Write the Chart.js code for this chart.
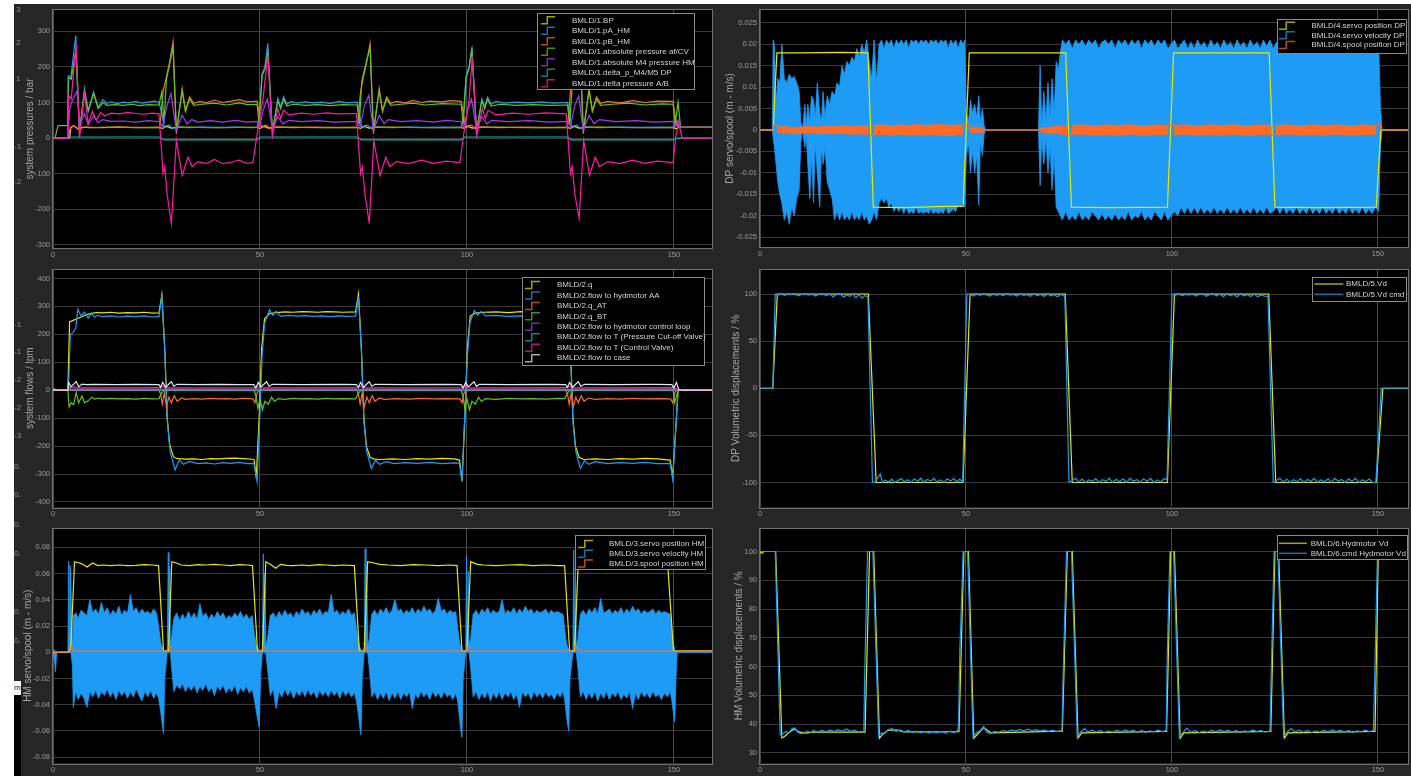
<!DOCTYPE html>
<html><head><meta charset="utf-8">
<script src="https://cdn.jsdelivr.net/npm/chart.js@4.4.1/dist/chart.umd.min.js"></script>
<style>
html,body{margin:0;padding:0;background:#fff;width:1411px;height:776px;overflow:hidden;position:relative}
#bg{position:absolute;left:14px;top:4px;width:1397px;height:772px;background:#262626}
canvas{position:absolute}
#clipL{position:absolute;left:14px;top:4px;width:7px;height:772px;overflow:hidden}
#clipL span{position:absolute;font:8px "Liberation Sans",Arial,sans-serif;color:#8a8a8a;line-height:10px;white-space:nowrap}
</style></head><body>
<div id="bg"></div>
<div id="clipL">
<span style="left:2px;top:1px">3</span><span style="left:2px;top:34px">2</span><span style="left:2px;top:70px">1</span>
<span style="left:0px;top:138px">-1</span><span style="left:0px;top:173px">-2</span>
<span style="left:2px;top:288px">.</span><span style="left:0px;top:316px">-1</span><span style="left:0px;top:343px">-1</span>
<span style="left:0px;top:371px">-2</span><span style="left:0px;top:399px">-2</span><span style="left:0px;top:427px">-3</span>
<span style="left:0px;top:458px">0.</span><span style="left:0px;top:486px">0.</span>
<span style="left:0px;top:516px">0.</span><span style="left:0px;top:545px">0.</span><span style="left:0px;top:603px">0.</span><span style="left:0px;top:632px">0.</span>
<div style="position:absolute;left:0;top:677px;width:7px;height:14px;background:#f4f4f4;font:8px 'Liberation Sans',Arial;color:#333;line-height:14px;overflow:hidden">mi</div>
<div style="position:absolute;left:0;top:691px;width:7px;height:81px;background:#000"></div>
</div>
<canvas id="c1" width="715" height="262" style="left:0;top:0"></canvas>
<canvas id="c2" width="696" height="262" style="left:715px;top:0"></canvas>
<canvas id="c3" width="715" height="259" style="left:0;top:262px"></canvas>
<canvas id="c4" width="696" height="259" style="left:715px;top:262px"></canvas>
<canvas id="c5" width="715" height="255" style="left:0;top:521px"></canvas>
<canvas id="c6" width="696" height="255" style="left:715px;top:521px"></canvas>
<script>
// ---------- tick arrays ----------
const xTicks = [0, 50, 100, 150];
const yTicksPress = [-300, -200, -100, 0, 100, 200, 300];
const yTicksDPservo = [-0.025, -0.02, -0.015, -0.01, -0.005, 0, 0.005, 0.01, 0.015, 0.02, 0.025];
const yTicksFlow = [-400, -300, -200, -100, 0, 100, 200, 300, 400];
const yTicksDPvd = [-100, -50, 0, 50, 100];
const yTicksHMservo = [-0.08, -0.06, -0.04, -0.02, 0, 0.02, 0.04, 0.06, 0.08];
const yTicksHMvd = [30, 40, 50, 60, 70, 80, 90, 100];

// ---------- panel 1: system pressures [t, bar] ----------
const BP = [[0,0],[4,0],[4.3,30],[5,34],[6,27],[7.5,31],[9,29],[12,30],[16,31],[20,29],[25.6,30],[26.5,27],[27.5,33],[28.5,28],[30,31],[35,30],[40,29],[45,30],[49.3,30],[50,27],[51,33],[52,28],[54,31],[60,30],[66,29],[73.5,30],[74.3,27],[75.3,33],[76.3,28],[78,31],[85,30],[92,29],[98.6,30],[99.3,27],[100.3,33],[101.3,28],[103,31],[110,30],[117,29],[124.3,30],[125,27],[126,33],[127,28],[129,31],[136,30],[143,29],[149.8,30],[150.5,26],[151.3,31],[152,30],[159.5,30]];
const pA_HM = [[0,0],[3.6,0],[3.7,175],[4.3,170],[5.5,288],[6.4,12],[7.6,139],[8.5,78],[9.8,130],[10.9,87],[12.1,108],[13,98],[14,102],[15.5,97],[17,101],[18.5,99],[20,103],[21.5,98],[23,101],[24.5,104],[25.6,100],[26.3,70],[26.8,32],[28,36],[29,27],[30,31],[33,29],[36,31],[40,30],[44,31],[48,29],[49.3,30],[49.8,60],[50.5,181],[51.2,200],[51.9,266],[53,12],[54.3,111],[55,87],[55.7,116],[56.5,95],[57.5,103],[59,98],[61,102],[63,99],[65,101],[67,97],[69,103],[71,99],[73.5,101],[74,70],[74.5,32],[76,36],[77,27],[78,31],[82,29],[86,31],[90,30],[94,31],[98.6,30],[99.1,60],[99.8,175],[100.5,200],[101.2,255],[102.3,12],[103.6,110],[104.3,88],[105,115],[105.8,95],[107,103],[109,98],[112,101],[115,99],[118,102],[121,98],[124.3,100],[124.8,70],[125.3,32],[126.5,36],[127.5,27],[128.5,31],[132,29],[137,31],[142,30],[146,31],[149.8,30],[150.3,45],[151,30],[159.5,30]];
const pB_HM = [[0,0],[3.6,0],[4.2,28],[5,35],[6,25],[8,31],[12,29],[16,31],[20,30],[25.8,30],[26.6,130],[27.4,172],[28.2,215],[29,271],[29.8,12],[31.2,139],[32,78],[33,116],[34,98],[35.5,103],[37,99],[39,107],[41,100],[43,104],[45,108],[47,102],[49.3,104],[49.8,70],[50.3,32],[51.5,36],[52.5,27],[54,31],[58,29],[63,31],[68,30],[73.5,30],[74.3,130],[75,172],[75.8,215],[76.6,265],[77.4,12],[78.8,139],[79.6,78],[80.6,116],[81.6,98],[83,103],[85,99],[87,106],[89,100],[91,104],[94,102],[96,105],[98.6,103],[99.1,70],[99.6,32],[101,36],[102,27],[103.5,31],[108,29],[113,31],[118,30],[124.3,30],[125,130],[125.7,172],[126.5,215],[127.3,262],[128.1,12],[129.5,139],[130.3,78],[131.3,116],[132.3,98],[134,103],[137,99],[140,105],[143,100],[146,104],[149.8,103],[150.3,60],[151,30],[159.5,30]];
const absAfCV = [[0,0],[0.5,0],[1.2,35],[3.6,35],[3.7,170],[4.4,165],[5.5,245],[6.4,20],[7.6,132],[8.5,75],[9.8,125],[10.9,83],[12.1,100],[13,92],[15,94],[17,92],[19,95],[21,91],[23,94],[25.6,93],[26.3,130],[26.8,40],[27.4,165],[28.2,210],[29,255],[29.8,20],[31.2,133],[32,74],[33,110],[34,92],[36,95],[39,98],[42,93],[45,99],[47,94],[49.3,95],[49.8,40],[50.5,175],[51.2,195],[51.9,240],[53,20],[54.3,105],[55,82],[55.7,110],[56.5,90],[58,95],[61,92],[64,94],[67,91],[70,94],[73.5,93],[74,40],[74.6,160],[75.6,210],[76.6,255],[77.4,20],[78.8,133],[79.6,74],[80.6,110],[81.6,92],[84,95],[87,98],[90,93],[94,97],[98.6,95],[99.1,40],[99.8,170],[100.5,195],[101.2,248],[102.3,20],[103.6,105],[104.3,82],[105,110],[105.8,90],[108,95],[112,92],[116,94],[120,92],[124.3,93],[124.8,40],[125.5,160],[126.5,210],[127.3,250],[128.1,20],[129.5,133],[130.3,74],[131.3,110],[132.3,92],[135,95],[139,98],[143,93],[147,96],[149.8,95],[150.3,40],[151,100],[151.6,30],[159.5,30]];
const absM4 = [[0,0],[3.6,0],[4,80],[4.8,110],[5.8,132],[6.5,40],[7.6,68],[8.5,38],[9.8,62],[10.9,43],[12,52],[14,47],[17,48],[20,45],[23,49],[25.8,46],[26.5,31],[27.5,90],[28.5,125],[29.8,22],[31.2,64],[32.4,40],[33.5,52],[35,45],[38,49],[41,45],[44,50],[47,45],[49.3,47],[49.9,31],[50.8,80],[51.8,110],[53,25],[54.3,60],[55.5,40],[57,50],[60,46],[64,49],[68,45],[73.5,47],[74.2,31],[75.2,90],[76.3,120],[77.4,22],[78.8,64],[80,40],[81,52],[84,46],[88,49],[92,45],[95,50],[98.6,46],[99.2,31],[100.2,80],[101.1,110],[102.3,25],[103.6,60],[104.8,40],[106,50],[110,46],[115,49],[120,45],[124.3,47],[125,31],[126,90],[127,118],[128.1,22],[129.5,64],[130.7,40],[132,52],[136,46],[141,49],[145,45],[149.8,47],[150.3,31],[151,50],[151.6,30],[159.5,30]];
const dpM4M5 = [[0,0],[3.6,0],[4,3],[25.8,3],[26.8,-5],[49.3,-5],[50,3],[73.5,3],[74.5,-5],[98.6,-5],[99.4,3],[124.3,3],[125.2,-5],[149.8,-5],[150.5,0],[159.5,0]];
const dpAB = [[0,0],[3.6,0],[3.8,120],[4.4,110],[5.6,265],[6.4,0],[7.6,125],[8.5,40],[9.5,75],[10.5,50],[11.5,72],[12.5,62],[14,70],[16,68],[18,72],[20,69],[22,67],[24,70],[25.6,68],[26.6,-100],[27,-80],[27.6,-160],[28.6,-240],[29.8,-7],[31.2,-105],[32.6,-54],[33.6,-80],[35,-66],[37,-72],[39,-60],[41,-72],[43,-68],[45,-62],[47,-72],[48.3,-68],[49.3,10],[50,60],[50.7,106],[51.9,233],[53,7],[54.3,83],[55,55],[55.7,78],[57,65],[60,70],[63,67],[66,71],[69,68],[73.3,69],[74.3,-100],[74.7,-80],[75.4,-160],[76.4,-240],[77.5,-7],[79,-105],[80.4,-54],[81.4,-80],[83,-66],[86,-72],[89,-62],[92,-71],[95,-65],[98.3,-69],[99.2,10],[99.9,60],[100.5,106],[101.3,230],[102.4,7],[103.7,83],[104.4,55],[105.1,78],[107,65],[111,70],[115,67],[119,71],[124,68],[125,-100],[125.4,-80],[126.1,-160],[127.1,-225],[128.2,-7],[129.6,-105],[131,-54],[132,-80],[134,-66],[137,-72],[140,-62],[143,-71],[146,-65],[149.8,-69],[150.5,10],[151.2,40],[152,0],[159.5,0]];

// ---------- panel 2: DP servo/spool [t, value] / [t, max, min] ----------
const dpServoPos = [[0,0],[3.2,0],[4.1,0.018],[10,0.018],[20,0.0181],[26.2,0.018],[27.5,-0.018],[35,-0.0181],[45,-0.0178],[49.3,-0.0178],[50.8,0.018],[60,0.018],[74.2,0.018],[75.6,-0.018],[85,-0.0181],[98.9,-0.018],[100.4,0.018],[110,0.018],[123.6,0.018],[125,-0.018],[135,-0.0181],[149.6,-0.018],[150.7,0],[157.5,0]];
const dpServoVel = [[0,0,0],[3.0,0,0],[3.2,0.021,-0.002],[3.5,0.02,-0.004],[3.9,0.006,-0.008],[4.3,0.012,-0.012],[4.8,0.011,-0.015],[5.3,0.02,-0.017],[5.9,0.012,-0.021],[6.5,0.011,-0.019],[7.1,0.013,-0.022],[7.7,0.012,-0.018],[8.3,0.0125,-0.02],[8.9,0.011,-0.016],[9.5,0.009,-0.014],[9.9,0.002,-0.003],[10.3,0,0],[10.9,0.006,-0.004],[11.2,0.001,-0.001],[11.6,0.006,-0.008],[12.1,0.002,-0.016],[12.5,0.008,-0.006],[13.0,0.007,-0.017],[13.4,0.003,-0.003],[13.9,0.011,-0.01],[14.5,0.004,-0.018],[14.9,0.002,-0.004],[15.3,0.009,-0.008],[15.8,0.003,-0.004],[16.3,0.008,-0.012],[16.9,0.006,-0.014],[17.5,0.009,-0.016],[18.1,0.008,-0.021],[18.7,0.011,-0.019],[19.3,0.01,-0.021],[19.9,0.015,-0.019],[20.5,0.013,-0.021],[21.1,0.016,-0.02],[21.7,0.015,-0.021],[22.3,0.017,-0.019],[22.9,0.016,-0.021],[23.5,0.019,-0.02],[24.1,0.017,-0.021],[24.7,0.02,-0.019],[25.3,0.018,-0.021],[25.9,0.021,-0.02],[26.5,0.016,-0.022],[27.1,0.012,-0.021],[27.7,0.021,-0.019],[28.3,0.011,-0.021],[28.9,0.02,-0.017],[29.5,0.021,-0.016],[30.1,0.019,-0.017],[30.7,0.021,-0.016],[31.3,0.02,-0.018],[31.9,0.021,-0.017],[32.5,0.019,-0.019],[33.1,0.021,-0.018],[33.7,0.02,-0.019],[34.3,0.021,-0.018],[34.9,0.02,-0.0195],[35.5,0.021,-0.018],[36.1,0.019,-0.0195],[36.7,0.021,-0.019],[37.3,0.0205,-0.0195],[37.9,0.021,-0.018],[38.5,0.02,-0.0195],[39.1,0.021,-0.019],[39.7,0.0205,-0.0195],[40.3,0.021,-0.019],[40.9,0.02,-0.0195],[41.5,0.021,-0.0185],[42.1,0.0205,-0.0195],[42.7,0.021,-0.019],[43.3,0.02,-0.0195],[43.9,0.021,-0.019],[44.5,0.0205,-0.0195],[45.1,0.021,-0.018],[45.7,0.019,-0.0195],[46.3,0.021,-0.019],[46.9,0.02,-0.0185],[47.5,0.021,-0.019],[48.1,0.019,-0.0175],[48.7,0.021,-0.018],[49.3,0.02,-0.017],[49.7,0.021,-0.018],[50.1,0.004,-0.006],[50.6,0.002,-0.003],[51.1,0.007,-0.01],[51.6,0.004,-0.005],[52.1,0.006,-0.01],[52.6,0.003,-0.006],[53.1,0.008,-0.0175],[53.5,0.002,-0.003],[54.0,0.005,-0.006],[54.4,0.001,-0.001],[54.8,0,0],[67.6,0,0],[68.0,0.015,-0.013],[68.4,0.001,-0.002],[68.9,0.009,-0.008],[69.4,0.002,-0.002],[69.9,0.011,-0.01],[70.4,0.003,-0.004],[70.9,0.012,-0.014],[71.4,0.004,-0.006],[71.9,0.016,-0.018],[72.4,0.014,-0.019],[72.9,0.018,-0.02],[73.4,0.021,-0.021],[74.2,0.02,-0.019],[75.0,0.021,-0.021],[75.8,0.019,-0.02],[76.6,0.021,-0.021],[77.4,0.02,-0.019],[78.2,0.021,-0.021],[79.0,0.0195,-0.02],[79.8,0.021,-0.021],[80.6,0.02,-0.019],[81.4,0.021,-0.02],[82.2,0.019,-0.021],[83.0,0.0205,-0.0195],[83.8,0.021,-0.021],[84.6,0.02,-0.02],[85.4,0.021,-0.021],[86.2,0.019,-0.0195],[87.0,0.021,-0.021],[87.8,0.02,-0.02],[88.6,0.021,-0.021],[89.4,0.0195,-0.019],[90.2,0.021,-0.021],[91.0,0.02,-0.02],[91.8,0.021,-0.0205],[92.6,0.019,-0.019],[93.4,0.021,-0.021],[94.2,0.02,-0.02],[95.0,0.021,-0.021],[95.8,0.0195,-0.019],[96.6,0.021,-0.02],[97.4,0.02,-0.021],[98.2,0.021,-0.019],[99.0,0.019,-0.021],[99.8,0.02,-0.02],[100.6,0.021,-0.019],[101.4,0.019,-0.02],[102.2,0.02,-0.018],[103.0,0.021,-0.0195],[103.8,0.019,-0.018],[104.6,0.0205,-0.0195],[105.4,0.019,-0.018],[106.2,0.021,-0.0195],[107.0,0.0195,-0.018],[107.8,0.0205,-0.0195],[108.6,0.019,-0.0185],[109.4,0.021,-0.0195],[110.2,0.0195,-0.018],[111.0,0.0205,-0.0195],[111.8,0.019,-0.0185],[112.6,0.021,-0.0195],[113.4,0.0195,-0.018],[114.2,0.0205,-0.0195],[115.0,0.019,-0.0185],[115.8,0.021,-0.0195],[116.6,0.0195,-0.018],[117.4,0.0205,-0.0195],[118.2,0.019,-0.0185],[119.0,0.021,-0.0195],[119.8,0.0195,-0.018],[120.6,0.0205,-0.0195],[121.4,0.019,-0.0185],[122.2,0.021,-0.0195],[123.0,0.0195,-0.018],[123.8,0.021,-0.0195],[124.6,0.019,-0.019],[125.4,0.0205,-0.018],[126.2,0.019,-0.0195],[127.0,0.0205,-0.018],[127.8,0.019,-0.0195],[128.6,0.0205,-0.0185],[129.4,0.019,-0.0195],[130.2,0.02,-0.018],[131.0,0.0185,-0.0195],[131.8,0.0205,-0.0185],[132.6,0.019,-0.0195],[133.4,0.02,-0.018],[134.2,0.0185,-0.0195],[135.0,0.0205,-0.0185],[135.8,0.019,-0.0195],[136.6,0.02,-0.018],[137.4,0.0185,-0.0195],[138.2,0.0205,-0.0185],[139.0,0.019,-0.0195],[139.8,0.02,-0.018],[140.6,0.0185,-0.0195],[141.4,0.0205,-0.0185],[142.2,0.019,-0.0195],[143.0,0.02,-0.018],[143.8,0.0185,-0.0195],[144.6,0.0205,-0.0185],[145.4,0.019,-0.0195],[146.2,0.02,-0.018],[147.0,0.0185,-0.0195],[147.8,0.0205,-0.0185],[148.6,0.019,-0.0195],[149.4,0.02,-0.018],[150.2,0.019,-0.019],[150.6,0.006,-0.004],[151.0,0,0],[157.5,0,0]];
const dpSpoolPos = [[0,0,0],[3.2,0,0],[3.25,0.0012,0.0012],[4.1,0.0012,0.0012],[4.3,0.0007,-0.0007],[6,0.0008,-0.0006],[8,0.0006,-0.0008],[10,0.0007,-0.0007],[12,0.0008,-0.0007],[14,0.0007,-0.0008],[16,0.0009,-0.0008],[18,0.0008,-0.0009],[20,0.001,-0.0008],[22,0.0009,-0.001],[24,0.001,-0.0009],[26.1,0.0009,-0.001],[26.2,-0.0012,-0.0012],[27.5,-0.0012,-0.0012],[27.7,0.0011,-0.0011],[30,0.0012,-0.0011],[32,0.001,-0.0012],[34,0.0012,-0.001],[36,0.0011,-0.0012],[38,0.0013,-0.0011],[40,0.0011,-0.0013],[42,0.0012,-0.0011],[44,0.0013,-0.0012],[46,0.0011,-0.0013],[48,0.0012,-0.0011],[49.1,0.0011,-0.0011],[49.2,0.0012,0.0012],[50.9,0.0012,0.0012],[51.1,0.0006,-0.0006],[52.5,0.0007,-0.0005],[54.2,0.0005,-0.0006],[54.4,0,0],[67.8,0,0],[68.2,0.0005,-0.0005],[70,0.0006,-0.0007],[72,0.0009,-0.0008],[73.5,0.001,-0.001],[74.3,0.001,-0.001],[74.4,-0.0012,-0.0012],[75.6,-0.0012,-0.0012],[75.8,0.0011,-0.0011],[78,0.0012,-0.001],[81,0.001,-0.0012],[84,0.0012,-0.0011],[87,0.0011,-0.0012],[90,0.0012,-0.001],[93,0.001,-0.0012],[96,0.0012,-0.0011],[98.9,0.0011,-0.0011],[99.0,0.0012,0.0012],[100.5,0.0012,0.0012],[100.7,0.0011,-0.0011],[103,0.0012,-0.001],[106,0.001,-0.0012],[109,0.0012,-0.0011],[112,0.0011,-0.0012],[115,0.0012,-0.001],[118,0.001,-0.0012],[121,0.0012,-0.0011],[123.9,0.0011,-0.0011],[124.0,-0.0012,-0.0012],[125.2,-0.0012,-0.0012],[125.4,0.0011,-0.0011],[128,0.0012,-0.001],[131,0.001,-0.0012],[134,0.0012,-0.0011],[137,0.0011,-0.0012],[140,0.0012,-0.001],[143,0.001,-0.0012],[146,0.0012,-0.0011],[149.4,0.0011,-0.0011],[149.5,0.0012,0.0012],[150.6,0.0012,0.0012],[150.7,0,0],[157.5,0,0]];

// ---------- panel 3: system flows [t, lpm] ----------
const q = [[0,0],[3.6,0],[4.0,245],[4.6,248],[5.6,255],[6.8,262],[8.0,270],[9.3,275],[10.5,278],[12,277],[14,279],[16,276],[18,278],[20,277],[22,279],[24,276],[25.6,277],[26.3,342],[27.0,150],[27.6,-100],[28.2,-196],[29.1,-238],[30,-245],[32,-247],[34,-246],[36,-248],[38,-245],[40,-246],[42,-244],[44,-243],[46,-245],[48.3,-247],[48.6,-250],[49.1,-315],[49.8,-100],[50.4,150],[51.1,256],[52.3,274],[54,278],[56,280],[58,279],[60,281],[62,280],[64,279],[66,281],[68,280],[70,279],[73.1,280],[73.8,345],[74.5,150],[75.1,-100],[75.7,-200],[76.6,-240],[77.6,-247],[79,-248],[82,-246],[85,-248],[88,-245],[91,-247],[94,-244],[97,-246],[98.2,-250],[98.8,-325],[99.5,-100],[100.1,150],[100.8,265],[102,276],[104,279],[107,280],[110,278],[113,281],[116,279],[119,280],[122,278],[123.6,280],[124.3,340],[125,150],[125.6,-100],[126.2,-200],[127.1,-240],[128.2,-248],[131,-246],[134,-248],[137,-245],[140,-247],[143,-244],[146,-246],[149.1,-250],[149.7,-310],[150.4,-150],[151,0],[159.5,0]];
const qHydmotorAA = [[0,0],[3.7,0],[4.2,200],[4.8,205],[5.5,222],[6.0,290],[6.8,265],[7.6,280],[8.5,258],[9.3,275],[10.0,262],[10.9,268],[12,263],[14,266],[16,262],[18,265],[20,263],[22,266],[24,262],[25.6,264],[26.3,339],[27.0,140],[27.6,-110],[28.3,-220],[29.5,-285],[30.5,-250],[31.5,-265],[33,-255],[35,-263],[37,-260],[39,-264],[41,-259],[43,-262],[45,-258],[47,-263],[48.3,-262],[48.6,-265],[49.3,-327],[50,-80],[50.5,120],[51.1,238],[52.3,288],[53.1,268],[53.9,283],[55,264],[57,268],[59,265],[61,267],[63,264],[65,266],[67,263],[69,266],[71,264],[73.1,265],[73.8,335],[74.5,140],[75.1,-110],[75.8,-220],[76.9,-280],[77.9,-250],[78.9,-265],[80.5,-256],[82.5,-263],[85,-259],[88,-262],[91,-258],[94,-263],[97,-260],[98.2,-262],[98.8,-327],[99.5,-80],[100.1,120],[100.7,240],[101.8,285],[102.6,268],[103.4,282],[104.5,266],[107,268],[110,264],[113,266],[116,263],[119,265],[122,264],[123.6,265],[124.3,335],[125,140],[125.6,-110],[126.3,-220],[127.4,-280],[128.4,-252],[129.4,-265],[131,-256],[134,-263],[137,-259],[140,-262],[143,-258],[146,-263],[149.1,-262],[149.7,-318],[150.4,-150],[151,0],[159.5,0]];
const qAT = [[0,0],[25.6,0],[26,-15],[26.4,-50],[26.9,-10],[27.4,-60],[28,-25],[28.6,-45],[29.3,-20],[30,-40],[31,-28],[32,-33],[34,-30],[36,-32],[38,-29],[40,-31],[42,-30],[44,-32],[46,-29],[48.3,-31],[48.8,-45],[49.3,-10],[49.8,0],[73.4,0],[73.8,-15],[74.2,-50],[74.7,-10],[75.2,-60],[75.8,-25],[76.4,-45],[77.1,-20],[77.8,-40],[78.8,-28],[80,-33],[83,-30],[86,-32],[89,-29],[92,-31],[95,-30],[98.3,-31],[98.8,-45],[99.3,-10],[99.8,0],[123.9,0],[124.3,-15],[124.7,-50],[125.2,-10],[125.7,-60],[126.3,-25],[126.9,-45],[127.6,-20],[128.3,-40],[129.3,-28],[131,-33],[134,-30],[137,-32],[140,-29],[143,-31],[146,-30],[149.2,-31],[149.7,-45],[150.2,-10],[150.7,0],[159.5,0]];
const qBT = [[0,0],[0.4,5],[0.8,0],[3.6,0],[3.9,-60],[4.4,-45],[5.0,-52],[5.6,-8],[6.2,-45],[7.0,-20],[7.6,-45],[8.5,-38],[9.3,-25],[10,-32],[11,-28],[12,-31],[14,-29],[16,-31],[18,-30],[20,-32],[22,-29],[24,-31],[25.6,-30],[26.2,-10],[26.8,0],[48.6,0],[49,-20],[49.5,-65],[50,-30],[50.6,-70],[51.2,-40],[52,-50],[52.8,-25],[53.5,-40],[54.5,-30],[56,-33],[58,-29],[60,-31],[62,-30],[64,-32],[66,-29],[68,-31],[70,-30],[73.1,-31],[73.8,-10],[74.4,0],[98.6,0],[99,-20],[99.5,-65],[100,-30],[100.6,-70],[101.2,-40],[102,-50],[102.8,-25],[103.5,-40],[104.5,-30],[107,-33],[110,-29],[113,-31],[116,-30],[119,-32],[122,-29],[123.6,-30],[124.3,-10],[124.9,0],[149.8,0],[150.2,-45],[150.7,-15],[151.2,0],[159.5,0]];
const qCtrlLoop = [[0,0],[3.6,0],[4,4],[151,4],[151.5,0],[159.5,0]];
const qCutOff = [[0,0],[159.5,0]];
const qCtrlValve = [[0,0],[3.6,0],[4.0,9],[5,12],[6,8],[25.6,9],[26.5,14],[27.5,8],[49,9],[50,14],[51,8],[73.4,9],[74.3,14],[75.3,8],[98.8,9],[99.8,14],[100.8,8],[123.9,9],[124.8,14],[125.8,8],[150,9],[151,0],[159.5,0]];
const qCase = [[0,0],[3.6,0],[3.8,28],[4.3,12],[5,22],[5.6,31],[6.2,12],[7,22],[8,20],[10,21],[15,20],[20,21],[25.6,20],[26,10],[26.5,28],[27.2,10],[28,22],[28.6,30],[29.2,14],[30,21],[35,20],[40,21],[45,20],[48.5,20],[49,8],[49.6,28],[50.2,12],[51,22],[51.6,30],[52.2,14],[53,21],[60,20],[70,21],[73.3,20],[73.8,10],[74.3,28],[75,10],[75.8,22],[76.4,30],[77,14],[77.8,21],[85,20],[95,21],[98.6,20],[99.1,8],[99.7,28],[100.3,12],[101.1,22],[101.7,30],[102.3,14],[103,21],[110,20],[120,21],[123.8,20],[124.3,10],[124.8,28],[125.5,10],[126.3,22],[126.9,30],[127.5,14],[128.4,21],[135,20],[145,21],[149.5,20],[150,8],[150.6,28],[151.2,0],[159.5,0]];

// ---------- panel 4: DP volumetric displacement [t, %] ----------
const dpVd = [[0,0],[3.1,0],[4.2,100],[26.3,100],[28.2,-100],[49.3,-100],[51,100],[74.1,100],[75.8,-100],[98.9,-100],[100.6,100],[123.5,100],[125.2,-100],[149.6,-100],[151.2,0],[157.5,0]];
const dpVdCmd = [[0,0],[3.1,0],[3.7,100],[4.5,99],[5.2,100],[6,98.5],[6.8,100],[7.5,99.2],[8.5,100],[9.2,98],[10.2,99.5],[11,100],[11.8,98.8],[12.5,100],[13.5,97.8],[14.2,99.6],[15.3,100],[16,98.4],[17,100],[17.7,97.2],[18.5,99.3],[19.5,100],[20.3,96.8],[21,99],[21.8,97.5],[22.5,100],[23.3,96],[24,99],[24.8,95.5],[25.5,98.5],[26.2,96.5],
[27.3,-100],[28,-99],[28.6,-95],[29.2,-91],[29.7,-100],[30.4,-97.5],[31.2,-99.5],[32,-96.5],[32.6,-100],[33.5,-98],[34.3,-95.8],[35,-99.5],[35.8,-97],[36.7,-100],[37.4,-96],[38.3,-98.8],[39,-95.5],[39.8,-99.8],[40.6,-96.8],[41.5,-98.5],[42.2,-95.3],[43,-99.6],[43.8,-97.2],[44.7,-100],[45.4,-96],[46.3,-98.5],[47,-95.6],[47.8,-99.5],[48.5,-96.5],[49.2,-99.5],
[50.2,100],[51,99.5],[51.8,97.8],[52.6,100],[53.4,98.6],[54.2,100],[55,99],[55.8,97.9],[56.6,100],[57.5,98.5],[58.2,99.7],[59,98.2],[59.9,100],[60.7,98.8],[61.5,99.6],[62.3,97.9],[63.2,100],[64,98.5],[64.8,99.4],[65.6,97.6],[66.5,100],[67.3,98.2],[68.1,99.5],[69,97.5],[69.8,100],[70.6,98],[71.4,99.2],[72.2,97],[73,99.5],[74,97.5],
[75,-100],[75.8,-98],[76.6,-95.5],[77.4,-99.6],[78.2,-96.4],[79,-100],[79.8,-97.4],[80.7,-99],[81.5,-95.8],[82.3,-100],[83.1,-97],[84,-98.8],[84.8,-95.5],[85.6,-100],[86.5,-96.6],[87.3,-99.2],[88.1,-96],[89,-100],[89.8,-95.4],[90.6,-98.6],[91.5,-97],[92.3,-100],[93.1,-96],[94,-99],[94.8,-95.6],[95.6,-100],[96.5,-97.2],[97.3,-99.4],[98.1,-96],[98.8,-97],
[100,100],[100.8,98.6],[101.6,100],[102.5,98.2],[103.3,99.6],[104.1,98.8],[105,100],[105.8,97.9],[106.6,99.5],[107.5,100],[108.3,97.6],[109.1,99.3],[110,100],[110.8,98],[111.6,99.7],[112.5,97.4],[113.3,100],[114.1,98.3],[115,99.6],[115.8,97.2],[116.6,100],[117.5,98],[118.3,99.4],[119.1,97.3],[120,100],[120.8,97],[121.6,99],[122.5,97.6],[123.3,97.5],
[124.6,-100],[125.4,-98],[126.2,-95.5],[127,-99.5],[127.9,-96.5],[128.7,-100],[129.5,-97],[130.4,-99.3],[131.2,-95.8],[132,-100],[132.9,-96.8],[133.7,-98.9],[134.5,-95.5],[135.4,-100],[136.2,-97.2],[137,-99.5],[137.9,-96],[138.7,-100],[139.5,-95.6],[140.4,-98.7],[141.2,-96.9],[142,-100],[142.9,-96.2],[143.7,-99.1],[144.5,-95.7],[145.4,-100],[146.2,-97],[147,-99.3],[147.9,-96.3],[148.7,-99.8],[149.5,-100],[150.8,0],[157.5,0]];

// ---------- panel 5: HM servo/spool ----------
const hmServoPos = [[0,0],[3.9,0],[4.3,0.004],[5.2,0.069],[6.4,0.068],[7.2,0.067],[8.2,0.065],[9.6,0.068],[10.8,0.066],[12,0.0665],[14,0.066],[16,0.0665],[18,0.066],[20,0.0662],[22,0.0668],[24,0.0665],[25.5,0.066],[26.7,0.001],[27.9,0.001],[28.7,0.069],[29.8,0.068],[31,0.0665],[33,0.066],[35,0.0668],[37,0.0665],[39,0.067],[41,0.0665],[43,0.066],[45,0.0668],[47,0.0665],[48.2,0.066],[49.4,0.001],[50.6,0.001],[51.4,0.069],[52.5,0.067],[53.8,0.064],[55,0.067],[56.5,0.0662],[58,0.066],[60,0.0665],[62,0.066],[64,0.0668],[66,0.0665],[68,0.066],[70,0.0665],[72.8,0.066],[74,0.001],[75.2,0.001],[76,0.069],[77.5,0.068],[79,0.067],[81,0.0665],[84,0.066],[87,0.0668],[90,0.0665],[93,0.066],[96,0.0665],[97.6,0.066],[98.8,0.001],[100,0.001],[100.9,0.069],[102.5,0.067],[104,0.0665],[107,0.066],[110,0.0665],[113,0.0668],[116,0.066],[119,0.0665],[122,0.066],[123.6,0.066],[124.8,0.001],[126,0.001],[126.9,0.069],[128.5,0.068],[130,0.067],[133,0.0665],[136,0.066],[139,0.0668],[142,0.0665],[145,0.066],[148.5,0.0665],[149.9,0.001],[159.5,0.001]];
const hmServoVel = [[0,0,0],[0.2,0.002,0],[0.4,0.001,-0.008],[0.6,0,-0.015],[0.8,0,-0.004],[1.0,0,0],[3.6,0,0],[3.8,0.0695,0],[3.95,0.01,0],[4.1,0.066,0],[4.3,0.06,0],[4.5,0.02,-0.005],[4.7,0.005,-0.01],[4.9,0.028,-0.042],[5.5,0.03,-0.03],[6.1,0.026,-0.036],[6.8,0.032,-0.031],[7.5,0.03,-0.035],[8.2,0.028,-0.042],[8.9,0.04,-0.03],[9.6,0.03,-0.034],[10.3,0.033,-0.029],[11.0,0.029,-0.035],[11.7,0.038,-0.03],[12.4,0.03,-0.033],[13.1,0.034,-0.028],[13.8,0.028,-0.034],[14.5,0.032,-0.03],[15.2,0.029,-0.036],[15.9,0.035,-0.029],[16.6,0.028,-0.033],[17.3,0.032,-0.03],[18.0,0.03,-0.035],[18.7,0.044,-0.03],[19.4,0.031,-0.034],[20.1,0.034,-0.028],[20.8,0.029,-0.033],[21.5,0.033,-0.037],[22.2,0.03,-0.03],[22.9,0.031,-0.034],[23.6,0.029,-0.029],[24.3,0.033,-0.035],[25.0,0.03,-0.031],[25.5,0.02,-0.035],[26.0,0.008,-0.045],[26.4,0.004,-0.055],[26.7,0.002,-0.062],[27.0,0,-0.02],[27.6,0.002,0],[27.85,0.076,0],[28.0,0.01,0],[28.2,0.065,0],[28.35,0.005,0],[28.6,0.01,-0.01],[29.2,0.026,-0.03],[29.9,0.03,-0.025],[30.6,0.024,-0.028],[31.3,0.029,-0.024],[32.0,0.025,-0.03],[32.7,0.031,-0.026],[33.4,0.026,-0.029],[34.1,0.03,-0.025],[34.8,0.025,-0.031],[35.5,0.037,-0.026],[36.2,0.027,-0.029],[36.9,0.03,-0.024],[37.6,0.025,-0.03],[38.3,0.029,-0.027],[39.0,0.026,-0.033],[39.7,0.031,-0.026],[40.4,0.027,-0.029],[41.1,0.03,-0.025],[41.8,0.025,-0.031],[42.5,0.028,-0.027],[43.2,0.026,-0.03],[43.9,0.03,-0.025],[44.6,0.027,-0.032],[45.3,0.031,-0.027],[46.0,0.026,-0.03],[46.7,0.029,-0.026],[47.4,0.025,-0.031],[48.1,0.028,-0.028],[48.6,0.015,-0.035],[49.1,0.006,-0.045],[49.5,0.003,-0.052],[49.8,0.001,-0.057],[50.2,0,-0.015],[50.6,0.002,0],[50.8,0.075,0],[51.0,0.008,0],[51.2,0.06,0],[51.4,0.005,0],[51.8,0.01,-0.012],[52.5,0.028,-0.033],[53.2,0.03,-0.028],[53.9,0.026,-0.043],[54.6,0.031,-0.03],[55.3,0.027,-0.034],[56.0,0.032,-0.028],[56.7,0.028,-0.033],[57.4,0.03,-0.029],[58.1,0.026,-0.035],[58.8,0.031,-0.03],[59.5,0.028,-0.033],[60.2,0.033,-0.029],[60.9,0.029,-0.034],[61.6,0.031,-0.028],[62.3,0.027,-0.033],[63.0,0.032,-0.03],[63.7,0.029,-0.035],[64.4,0.033,-0.029],[65.1,0.028,-0.033],[65.8,0.031,-0.03],[66.5,0.03,-0.034],[67.2,0.044,-0.029],[67.9,0.03,-0.033],[68.6,0.032,-0.03],[69.3,0.028,-0.035],[70.0,0.031,-0.029],[70.7,0.029,-0.033],[71.4,0.033,-0.03],[72.1,0.028,-0.034],[72.8,0.03,-0.031],[73.3,0.018,-0.037],[73.8,0.008,-0.048],[74.1,0.004,-0.057],[74.4,0.002,-0.063],[74.7,0,-0.02],[75.2,0.002,0],[75.4,0.079,0],[75.6,0.008,0],[75.8,0.066,0],[76.0,0.005,0],[76.4,0.01,-0.012],[77.0,0.029,-0.034],[77.7,0.032,-0.03],[78.4,0.028,-0.036],[79.1,0.033,-0.031],[79.8,0.03,-0.035],[80.5,0.034,-0.03],[81.2,0.029,-0.037],[81.9,0.032,-0.031],[82.6,0.04,-0.035],[83.3,0.031,-0.03],[84.0,0.033,-0.036],[84.7,0.029,-0.031],[85.4,0.032,-0.034],[86.1,0.03,-0.03],[86.8,0.034,-0.043],[87.5,0.029,-0.032],[88.2,0.033,-0.035],[88.9,0.03,-0.03],[89.6,0.035,-0.034],[90.3,0.031,-0.031],[91.0,0.033,-0.036],[91.7,0.029,-0.03],[92.4,0.032,-0.034],[93.1,0.041,-0.031],[93.8,0.031,-0.035],[94.5,0.033,-0.03],[95.2,0.029,-0.034],[95.9,0.032,-0.032],[96.6,0.03,-0.036],[97.3,0.031,-0.031],[97.8,0.018,-0.038],[98.2,0.008,-0.05],[98.5,0.004,-0.059],[98.8,0.002,-0.065],[99.1,0,-0.02],[99.7,0.002,0],[99.9,0.074,0],[100.1,0.008,0],[100.3,0.062,0],[100.5,0.005,0],[100.9,0.01,-0.012],[101.5,0.029,-0.034],[102.2,0.032,-0.03],[102.9,0.028,-0.036],[103.6,0.033,-0.031],[104.3,0.03,-0.035],[105.0,0.034,-0.03],[105.7,0.029,-0.037],[106.4,0.032,-0.031],[107.1,0.03,-0.035],[107.8,0.031,-0.03],[108.5,0.04,-0.036],[109.2,0.029,-0.031],[109.9,0.032,-0.034],[110.6,0.03,-0.03],[111.3,0.034,-0.036],[112.0,0.029,-0.032],[112.7,0.033,-0.042],[113.4,0.03,-0.03],[114.1,0.035,-0.034],[114.8,0.031,-0.031],[115.5,0.033,-0.036],[116.2,0.029,-0.03],[116.9,0.032,-0.034],[117.6,0.03,-0.031],[118.3,0.031,-0.035],[119.0,0.033,-0.03],[119.7,0.029,-0.034],[120.4,0.032,-0.032],[121.1,0.03,-0.036],[121.8,0.031,-0.031],[122.5,0.03,-0.034],[123.2,0.029,-0.03],[123.6,0.018,-0.036],[124.0,0.008,-0.047],[124.3,0.004,-0.055],[124.6,0.002,-0.06],[124.9,0,-0.02],[125.6,0.002,0],[125.8,0.078,0],[126.0,0.008,0],[126.2,0.065,0],[126.4,0.005,0],[126.8,0.01,-0.012],[127.4,0.029,-0.034],[128.1,0.032,-0.03],[128.8,0.028,-0.036],[129.5,0.033,-0.031],[130.2,0.03,-0.035],[130.9,0.034,-0.03],[131.6,0.029,-0.037],[132.3,0.041,-0.031],[133.0,0.03,-0.035],[133.7,0.031,-0.03],[134.4,0.033,-0.036],[135.1,0.029,-0.031],[135.8,0.032,-0.034],[136.5,0.03,-0.03],[137.2,0.034,-0.036],[137.9,0.029,-0.032],[138.6,0.033,-0.035],[139.3,0.03,-0.03],[140.0,0.035,-0.043],[140.7,0.031,-0.031],[141.4,0.033,-0.036],[142.1,0.029,-0.03],[142.8,0.032,-0.034],[143.5,0.03,-0.031],[144.2,0.031,-0.035],[144.9,0.033,-0.03],[145.6,0.029,-0.034],[146.3,0.032,-0.032],[147.0,0.03,-0.036],[147.7,0.031,-0.031],[148.4,0.03,-0.034],[149.1,0.029,-0.03],[149.5,0.015,-0.037],[149.9,0.006,-0.047],[150.2,0.002,-0.053],[150.5,0,-0.02],[150.8,0,0],[159.5,0,0]];
const hmSpoolPos = [[0,0],[3.8,0.0005],[4.0,0.004],[4.6,0.004],[4.8,0.0008],[27.6,0.0008],[27.8,0.004],[28.4,0.004],[28.6,0.0008],[50.4,0.0008],[50.6,0.004],[51.2,0.004],[51.4,0.0008],[75,0.0008],[75.2,0.004],[75.8,0.004],[76,0.0008],[99.8,0.0008],[100,0.004],[100.6,0.004],[100.8,0.0008],[125.8,0.0008],[126,0.004],[126.6,0.004],[126.8,0.0008],[159.5,0.0008]];

// ---------- panel 6: HM volumetric displacement [t, %] ----------
const hmVd = [[0,99.5],[0.7,99.5],[0.8,100],[3.8,100],[5.3,35.2],[6,35.8],[7,37],[8.3,38.3],[9.5,37.3],[11,36.9],[13,37.2],[25.5,37.2],[26.6,100],[27.6,100],[29,35.1],[29.8,36.5],[31,37.8],[33,38],[35,37.3],[48.3,37.4],[49.5,100],[50.6,100],[51.9,35.1],[52.8,36.5],[54.3,38.8],[56,37],[73.4,37.6],[74.6,100],[75.8,100],[77.2,35.2],[78.1,37],[98.7,37.5],[99.7,100],[100.6,100],[102,35.1],[102.9,37],[124,37.5],[125,100],[125.9,100],[127.3,35.2],[128.2,37],[149.3,37.5],[150.1,100],[157.5,100]];
const hmVdCmd = [[0,100],[3.7,100],[4.9,36.3],[5.5,36.6],[6.3,37.5],[7,37],[7.8,38.5],[8.5,38.7],[9.2,37.2],[10,36.6],[10.8,37.1],[11.5,37.6],[12.3,37.1],[13,37.8],[14,37.2],[15,37.9],[16,37.3],[17,38],[18,37.4],[19,38.1],[20,37.5],[21,38.3],[22,37.5],[23,37.9],[24,37.2],[24.7,37.6],[25.2,37.1],[25.4,56],[26.1,100],[27.4,100],[28.8,35.8],[29.5,37],[30.3,36.8],[31,38],[32,38.5],[33,37.5],[34,38],[35,37.3],[36,37.8],[37,37.1],[38,37.6],[39,37],[40,37.5],[41,36.9],[42,37.4],[43,37],[44,37.5],[45,36.8],[46,37.6],[47,37],[48,37.8],[48.2,40],[48.5,65],[49.3,100],[50.4,100],[51.7,35.5],[52.5,37],[53.5,37.8],[54.3,39.2],[55,37.2],[56,36.8],[57,37.5],[58,37.2],[59,37.8],[60,37.4],[61,38],[62,37.6],[63,38.2],[64,37.7],[65,38.3],[66,37.8],[67,38.1],[68,37.6],[69,38],[70,37.5],[71,37.9],[72,37.4],[73.3,37.8],[73.6,58],[74.4,100],[75.6,100],[77,35.6],[77.8,37.2],[78.8,38.5],[79.6,37.3],[80.6,37.9],[81.6,37.2],[82.6,37.8],[83.6,37.1],[84.6,37.7],[85.6,37.2],[86.6,37.9],[87.6,37.3],[88.6,38],[89.6,37.4],[90.6,37.9],[91.6,37.2],[92.6,37.8],[93.6,37.1],[94.6,37.7],[95.6,37.3],[96.6,38],[97.6,37.4],[98.6,37.8],[98.8,60],[99.5,100],[100.4,100],[101.8,35.4],[102.6,37],[103.6,38.6],[104.6,37.2],[105.6,37.8],[106.6,37.1],[107.6,37.7],[108.6,37.2],[109.6,37.9],[110.6,37.3],[111.6,38],[112.6,37.4],[113.6,37.9],[114.6,37.2],[115.6,37.8],[116.6,37.1],[117.6,37.7],[118.6,37.3],[119.6,38],[120.6,37.4],[121.6,37.8],[122.6,37.2],[123.8,37.7],[124.1,58],[124.8,100],[125.7,100],[127.1,35.7],[127.9,37.2],[128.9,38.5],[129.9,37.3],[130.9,37.9],[131.9,37.2],[132.9,37.8],[133.9,37.1],[134.9,37.7],[135.9,37.2],[136.9,37.9],[137.9,37.3],[138.9,38],[139.9,37.4],[140.9,37.9],[141.9,37.2],[142.9,37.8],[143.9,37.1],[144.9,37.7],[145.9,37.3],[146.9,38],[147.9,37.4],[148.9,37.8],[149.2,55],[149.9,100],[157.5,100]];

// ---------- styling & helpers ----------
const FONT = '"Liberation Sans", Arial, Helvetica, sans-serif';
const COL = {yellow:'#e8e800', blue:'#1d9bf5', orange:'#ff6a26', green:'#5fc81a', purple:'#a13cf0', teal:'#14b4b4', magenta:'#ff1aa6', white:'#e6e6e6'};
const pts = a => a.map(p => ({x:p[0], y:p[1]}));
const his = a => a.map(p => ({x:p[0], y:p[1]}));
const los = a => a.map(p => ({x:p[0], y:p[2]}));
function shade(hex, f){
  const n = parseInt(hex.slice(1), 16);
  const r = Math.round(((n>>16)&255)*f), g = Math.round(((n>>8)&255)*f), b = Math.round((n&255)*f);
  return 'rgb(' + r + ',' + g + ',' + b + ')';
}
function line(label, arr, color, order){
  return {label, data: pts(arr), borderColor: color, backgroundColor: color, borderWidth: 1.2, pointRadius: 0, fill: false, order};
}
function band(label, arr, color, order){
  return [
    {label, data: his(arr), borderColor: color, backgroundColor: color, borderWidth: 0.8, pointRadius: 0, fill: false, order},
    {label, legendHide: true, data: los(arr), borderColor: color, backgroundColor: color, borderWidth: 0.8, pointRadius: 0, fill: '-1', order}
  ];
}

const framePlugin = {
  id: 'frame',
  beforeDraw(chart){
    const {ctx, chartArea: a} = chart;
    ctx.save(); ctx.fillStyle = '#000'; ctx.fillRect(a.left, a.top, a.right - a.left, a.bottom - a.top); ctx.restore();
  },
  afterDatasetsDraw(chart){
    const {ctx, chartArea: a} = chart;
    ctx.save(); ctx.strokeStyle = '#707070'; ctx.lineWidth = 1;
    ctx.strokeRect(Math.round(a.left) - 0.5, Math.round(a.top) - 0.5, Math.round(a.right - a.left) + 1, Math.round(a.bottom - a.top) + 1);
    ctx.restore();
  }
};
const legendPlugin = {
  id: 'boxLegend',
  afterDraw(chart, args, o){
    if (!o || o.x === undefined) return;
    const ctx = chart.ctx;
    ctx.save();
    ctx.fillStyle = '#000'; ctx.fillRect(o.x, o.y, o.w, o.h);
    ctx.strokeStyle = '#8a8a8a'; ctx.lineWidth = 1; ctx.strokeRect(o.x + 0.5, o.y + 0.5, o.w, o.h);
    ctx.font = '8px ' + FONT; ctx.textBaseline = 'middle'; ctx.textAlign = 'left';
    let i = 0;
    chart.data.datasets.forEach(ds => {
      if (ds.legendHide) return;
      const yy = o.y0 + i * o.dy;
      ctx.strokeStyle = shade(ds.borderColor, 0.72); ctx.lineWidth = 1.5;
      ctx.beginPath();
      if (o.step) {
        const m = o.ix + o.iw * 0.45;
        ctx.moveTo(o.ix, yy + 3.5); ctx.lineTo(m, yy + 3.5); ctx.lineTo(m, yy - 3.5); ctx.lineTo(o.ix + o.iw, yy - 3.5);
      } else {
        ctx.moveTo(o.ix, yy); ctx.lineTo(o.ix + o.iw, yy);
      }
      ctx.stroke();
      ctx.fillStyle = '#d2d2d2';
      ctx.fillText(ds.label, o.tx, yy);
      i++;
    });
    ctx.restore();
  }
};

function makeChart(id, c){
  return new Chart(document.getElementById(id), {
    type: 'line',
    data: {datasets: c.datasets},
    options: {
      responsive: false, maintainAspectRatio: false, animation: false, events: [],
      layout: {padding: {left: c.pl, top: c.pt, right: 3, bottom: 0}},
      scales: {
        x: {type: 'linear', min: 0, max: c.xmax,
          afterBuildTicks: s => { s.ticks = xTicks.map(v => ({value: v})); },
          afterFit: s => { s.height = c.xh; },
          grid: {color: '#4c4c4c', drawTicks: false, lineWidth: 1},
          border: {display: false},
          ticks: {color: '#9a9a9a', font: {size: 7.5, family: FONT}, padding: 2, maxRotation: 0, autoSkip: false}},
        y: {type: 'linear', min: c.ymin, max: c.ymax,
          afterBuildTicks: s => { s.ticks = c.yticks.map(v => ({value: v})); },
          afterFit: s => { s.width = c.yw; },
          grid: {color: '#393939', drawTicks: false, lineWidth: 1},
          border: {display: false},
          ticks: {color: '#9a9a9a', font: {size: 7.5, family: FONT}, padding: 3, autoSkip: false,
                  callback: v => String(+Number(v).toFixed(4))},
          title: {display: true, text: c.ytitle, color: '#a4a4a4', font: {size: 10, family: FONT}, padding: {top: 0, bottom: 0}}}
      },
      plugins: {legend: {display: false}, tooltip: {enabled: false}, boxLegend: c.legend}
    },
    plugins: [framePlugin, legendPlugin]
  });
}

// Panel 1
makeChart('c1', {pl: 24, pt: 10, yw: 29, xh: 14, xmax: 159.2, ymin: -309, ymax: 360, yticks: yTicksPress,
  ytitle: 'system pressures / bar',
  legend: {x: 537, y: 13, w: 157, h: 76, y0: 20.3, dy: 10.5, ix: 541, iw: 14, tx: 572, step: true},
  datasets: [
    line('BMLD/1.BP', BP, COL.yellow, 6),
    line('BMLD/1.pA_HM', pA_HM, COL.blue, 5),
    line('BMLD/1.pB_HM', pB_HM, COL.orange, 4),
    line('BMLD/1.absolute pressure af/CV', absAfCV, COL.green, 3),
    line('BMLD/1.absolute M4 pressure HM', absM4, COL.purple, 2),
    line('BMLD/1.delta_p_M4/M5 DP', dpM4M5, COL.teal, 1),
    line('BMLD/1.delta pressure A/B', dpAB, COL.magenta, 0)
  ]});

// Panel 2
makeChart('c2', {pl: 9, pt: 10, yw: 36, xh: 15, xmax: 157.3, ymin: -0.0273, ymax: 0.028, yticks: yTicksDPservo,
  ytitle: 'DP servo/spool (m - m/s)',
  legend: {x: 562, y: 19, w: 129, h: 34, y0: 25.7, dy: 9.6, ix: 564, iw: 16, tx: 596.5, step: true},
  datasets: [
    line('BMLD/4.servo position DP', dpServoPos, COL.yellow, 1),
    ...band('BMLD/4.servo velocity DP', dpServoVel, COL.blue, 3),
    ...band('BMLD/4.spool position DP', dpSpoolPos, COL.orange, 0)
  ]});

// Panel 3
makeChart('c3', {pl: 24, pt: 7, yw: 29, xh: 14, xmax: 159.2, ymin: -418, ymax: 432, yticks: yTicksFlow,
  ytitle: 'system flows / lpm',
  legend: {x: 522, y: 15, w: 182, h: 88, y0: 23, dy: 10.45, ix: 525, iw: 15, tx: 557, step: true},
  datasets: [
    line('BMLD/2.q', q, COL.yellow, 7),
    line('BMLD/2.flow to hydmotor AA', qHydmotorAA, COL.blue, 6),
    line('BMLD/2.q_AT', qAT, COL.orange, 5),
    line('BMLD/2.q_BT', qBT, COL.green, 4),
    line('BMLD/2.flow to hydmotor control loop', qCtrlLoop, COL.purple, 3),
    line('BMLD/2.flow to T (Pressure Cut-off Valve)', qCutOff, COL.teal, 2),
    line('BMLD/2.flow to T (Control Valve)', qCtrlValve, COL.magenta, 1),
    line('BMLD/2.flow to case', qCase, COL.white, 0)
  ]});

// Panel 4
makeChart('c4', {pl: 15, pt: 7, yw: 30, xh: 14, xmax: 157.3, ymin: -126, ymax: 126, yticks: yTicksDPvd,
  ytitle: 'DP Volumetric displacements / %',
  legend: {x: 597, y: 15, w: 94, h: 24, y0: 22, dy: 10.3, ix: 599.3, iw: 29, tx: 631, step: false},
  datasets: [
    line('BMLD/5.Vd', dpVd, COL.yellow, 1),
    line('BMLD/5.Vd cmd', dpVdCmd, COL.blue, 0)
  ]});

// Panel 5
makeChart('c5', {pl: 22, pt: 7, yw: 31, xh: 13, xmax: 159.2, ymin: -0.0844, ymax: 0.0943, yticks: yTicksHMservo,
  ytitle: 'HM servo/spool (m - m/s)',
  legend: {x: 575, y: 14, w: 130, h: 34, y0: 23, dy: 9.8, ix: 578, iw: 15, tx: 609, step: true},
  datasets: [
    line('BMLD/3.servo position HM', hmServoPos, COL.yellow, 1),
    ...band('BMLD/3.servo velocity HM', hmServoVel, COL.blue, 3),
    line('BMLD/3.spool position HM', hmSpoolPos, COL.orange, 0)
  ]});

// Panel 6
makeChart('c6', {pl: 18, pt: 7, yw: 27, xh: 13, xmax: 157.3, ymin: 26.5, ymax: 108, yticks: yTicksHMvd,
  ytitle: 'HM Volumetric displacements / %',
  legend: {x: 562, y: 14, w: 130, h: 24, y0: 22.3, dy: 10, ix: 564, iw: 28, tx: 595.7, step: false},
  datasets: [
    line('BMLD/6.Hydmotor Vd', hmVd, COL.yellow, 1),
    line('BMLD/6.cmd Hydmotor Vd', hmVdCmd, COL.blue, 0)
  ]});
</script>
</body></html>
